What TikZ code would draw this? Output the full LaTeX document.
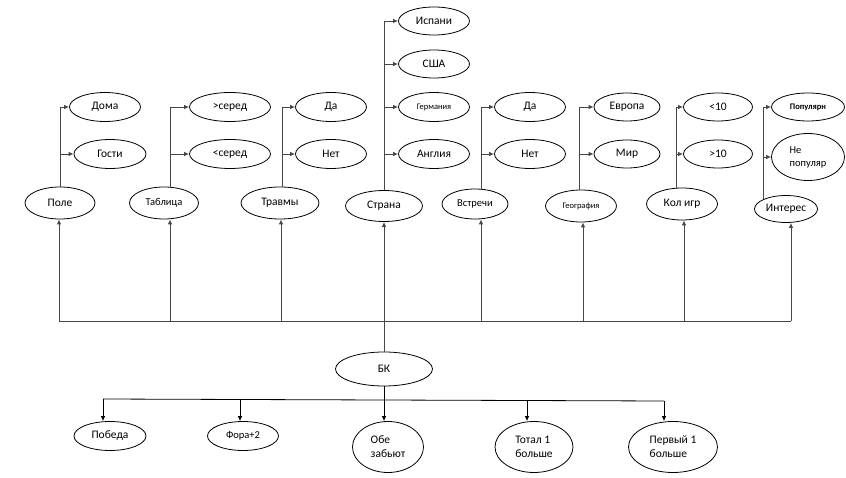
\documentclass[tikz,border=0pt]{standalone}
\usepackage{fontspec}
\setmainfont{Carlito}
\usetikzlibrary{shapes.geometric,arrows.meta}
\begin{document}
\begin{tikzpicture}[x=1pt,y=-1pt,
  el/.style={draw=black,line width=0.8pt,ellipse,inner sep=0pt,align=left,font=\fontsize{11.5}{14}\selectfont},
  sm/.style={font=\fontsize{8.5}{10}\selectfont},
  md/.style={font=\fontsize{10.5}{13}\selectfont},
  conn/.style={line width=0.9pt,black!72},
  arr/.style={conn,-{Latex[length=5pt,width=4.5pt]}},
  barr/.style={line width=0.8pt,black,-{Latex[length=5pt,width=4.5pt]}}]
\useasboundingbox (0,0) rectangle (846,478);
% categories
\node[el,minimum width=70pt,minimum height=32pt] (pole) at (60,203) {Поле};
\node[el,md,minimum width=69pt,minimum height=32pt] (tabl) at (164,203) {Таблица};
\node[el,minimum width=78pt,minimum height=32pt] (travm) at (280,203) {Травмы};
\node[el,minimum width=77pt,minimum height=31pt] (strana) at (384,206) {Страна};
\node[el,md,minimum width=66pt,minimum height=30pt] (vstr) at (475,204) {Встречи};
\node[el,sm,minimum width=71pt,minimum height=32pt] (geo) at (581,206) {География};
\node[el,minimum width=71pt,minimum height=32pt] (kol) at (682,204) {Кол игр};
\node[el,minimum width=63pt,minimum height=27pt] (inter) at (786,209) {Интерес};
% children
\node[el,minimum width=71pt,minimum height=29pt] (doma) at (105,107) {Дома};
\node[el,minimum width=72pt,minimum height=29pt] (gosti) at (110,154) {Гости};
\node[el,minimum width=81pt,minimum height=29pt] (bolee) at (230,107) {>серед};
\node[el,minimum width=81pt,minimum height=29pt] (menee) at (230,154) {<серед};
\node[el,minimum width=71pt,minimum height=29pt] (tda) at (331,107) {Да};
\node[el,minimum width=71pt,minimum height=29pt] (tnet) at (331,154) {Нет};
\node[el,minimum width=71pt,minimum height=28pt] (isp) at (434,21) {Испани};
\node[el,minimum width=71pt,minimum height=28pt] (usa) at (434,64) {США};
\node[el,sm,minimum width=71pt,minimum height=29pt] (germ) at (434,107) {Германия};
\node[el,minimum width=71pt,minimum height=29pt] (angl) at (434,154) {Англия};
\node[el,minimum width=71pt,minimum height=29pt] (vda) at (530,107) {Да};
\node[el,minimum width=71pt,minimum height=29pt] (vnet) at (530,154) {Нет};
\node[el,minimum width=66pt,minimum height=28pt] (evr) at (627,107) {Европа};
\node[el,minimum width=66pt,minimum height=28pt] (mir) at (627,154) {Мир};
\node[el,minimum width=69pt,minimum height=28pt] (men10) at (718,107) {<10};
\node[el,minimum width=69pt,minimum height=28pt] (bol10) at (718,154) {>10};
\node[el,sm,minimum width=73pt,minimum height=28pt] (pop) at (808,107) {\bfseries Популярн};
\node[el,md,minimum width=73pt,minimum height=47pt] (nepop) at (808,157) {Не\\популяр};
% BK and outcomes
\node[el,minimum width=97pt,minimum height=34pt] (bk) at (384,369) {БК};
\node[el,minimum width=72pt,minimum height=29pt] (pob) at (110,436) {Победа};
\node[el,md,minimum width=71pt,minimum height=29pt] (fora) at (243,436) {Фора+2};
\node[el,minimum width=71pt,minimum height=51pt] (obe) at (388,447) {Обе\\забьют};
\node[el,minimum width=78pt,minimum height=51pt] (total) at (534,447) {Тотал 1\\больше};
\node[el,minimum width=89pt,minimum height=51pt] (perv) at (673,447) {Первый 1\\больше};
% branches
\draw[arr] (pole.north) |- (doma.west);
\draw[arr] (pole.north |- gosti.west) -- (gosti.west);
\draw[arr] (tabl.north) ++(6,0) coordinate (tx) |- (bolee.west);
\draw[arr] (tx |- menee.west) -- (menee.west);
\draw[arr] (travm.north) ++(2,0) coordinate (trx) |- (tda.west);
\draw[arr] (trx |- tnet.west) -- (tnet.west);
\draw[arr] (strana.north) |- (isp.west);
\draw[arr] (strana.north |- usa.west) -- (usa.west);
\draw[arr] (strana.north |- germ.west) -- (germ.west);
\draw[arr] (strana.north |- angl.west) -- (angl.west);
\draw[arr] (vstr.north) ++(6,0) coordinate (vx) |- (vda.west);
\draw[arr] (vx |- vnet.west) -- (vnet.west);
\draw[arr] (geo.north) ++(-2,0) coordinate (gx) |- (evr.west);
\draw[arr] (gx |- mir.west) -- (mir.west);
\draw[arr] (kol.north) ++(-6,0) coordinate (kx) |- (men10.west);
\draw[arr] (kx |- bol10.west) -- (bol10.west);
\draw[arr] (inter.north west) |- (pop.west);
\draw[arr] (inter.north west |- nepop.west) -- (nepop.west);
% upper bus
\coordinate (b1) at (59,321);
\coordinate (b2) at (170,321);
\coordinate (b3) at (281,321);
\coordinate (b5) at (481,321);
\coordinate (b6) at (583,321);
\coordinate (b7) at (684,321);
\coordinate (b8) at (791,321);
\draw[conn] (b1) -- (b8);
\draw[arr] (b1) -- (b1 |- pole.south);
\draw[arr] (b2) -- (b2 |- tabl.south);
\draw[arr] (b3) -- (b3 |- travm.south);
\draw[arr] (bk.north) -- (strana.south);
\draw[arr] (b5) -- (b5 |- vstr.south);
\draw[arr] (b6) -- (b6 |- geo.south);
\draw[arr] (b7) -- (b7 |- kol.south);
\draw[arr] (b8) -- (b8 |- inter.south);
% lower bus
\coordinate (c1) at (103,399);
\coordinate (c2) at (240,399.5);
\coordinate (c4) at (527,400.5);
\coordinate (c5) at (664,401);
\draw[line width=0.8pt] (c1) -- (c5);
\draw[barr] (c1) -- (c1 |- pob.north);
\draw[barr] (c2) -- (c2 |- fora.north);
\draw[barr] (bk.south) -- (bk.south |- obe.north);
\draw[barr] (c4) -- (c4 |- total.north);
\draw[barr] (c5) -- (c5 |- perv.north);
\end{tikzpicture}
\end{document}
